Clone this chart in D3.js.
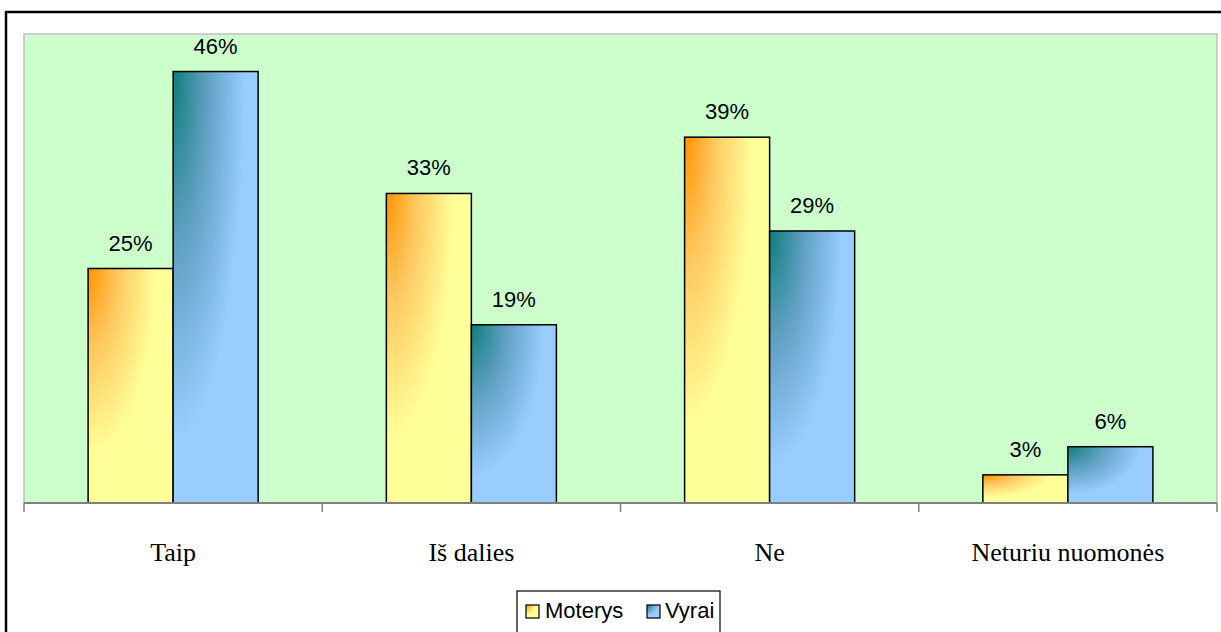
<!DOCTYPE html>
<html>
<head>
<meta charset="utf-8">
<script src="https://cdn.jsdelivr.net/npm/d3@7"></script>
<style>
  html, body { margin: 0; padding: 0; background: #fff; }
  svg { display: block; }
</style>
</head>
<body>
<div id="chart"></div>
<script>
const categories = ['Taip', 'Iš dalies', 'Ne', 'Neturiu nuomonės'];
const series = ['Moterys', 'Vyrai'];
const moterys = [25, 33, 39, 3];
const vyrai = [46, 19, 29, 6];
const yTicks = [0, 10, 20, 30, 40, 50];

const width = 1221;
const height = 632;
const plot = { left: 24, top: 34, right: 1217, bottom: 503 };

const svg = d3.select('#chart').append('svg').attr('width', width).attr('height', height);

// gradients, corner-lit like the spreadsheet fill
const defs = svg.append('defs');
const grads = [
  { id: 'gM', stops: [['0', '#ff9400'], ['0.35', '#ffc860'], ['0.8', '#ffff99']] },
  { id: 'gV', stops: [['0', '#0f7d7c'], ['0.4', '#5fa0c2'], ['0.85', '#99ccff']] },
];
grads.forEach((g) => {
  const rg = defs.append('radialGradient').attr('id', g.id)
    .attr('cx', 0).attr('cy', 0).attr('fx', 0).attr('fy', 0).attr('r', 1);
  g.stops.forEach((s) => rg.append('stop').attr('offset', s[0]).attr('stop-color', s[1]));
});
const fills = { Moterys: 'url(#gM)', Vyrai: 'url(#gV)' };

// outer chart frame (right and bottom edges fall outside the picture)
svg.append('rect')
  .attr('x', 6).attr('y', 12).attr('width', 1240).attr('height', 660)
  .attr('fill', 'none').attr('stroke', '#000').attr('stroke-width', 2.5);

// plot area
svg.append('rect')
  .attr('x', plot.left).attr('y', plot.top)
  .attr('width', plot.right - plot.left).attr('height', plot.bottom - plot.top)
  .attr('fill', '#ccffcc').attr('stroke', '#c0c0c0').attr('stroke-width', 1.5);

const x0 = d3.scaleBand().domain(categories).range([plot.left, plot.right]);
const x1 = d3.scaleBand().domain(series).range([0, x0.bandwidth()]).paddingOuter(0.754);
const y = d3.scaleLinear().domain([0, d3.max(yTicks)]).range([plot.bottom, plot.top]);

const rows = categories.map((c, i) => ({
  cat: c,
  vals: [
    { s: 'Moterys', v: moterys[i] },
    { s: 'Vyrai', v: vyrai[i] },
  ],
}));

const groups = svg.selectAll('.grp').data(rows).enter().append('g')
  .attr('class', 'grp')
  .attr('transform', (d) => `translate(${x0(d.cat)},0)`);

groups.selectAll('rect').data((d) => d.vals).enter().append('rect')
  .attr('x', (d) => x1(d.s))
  .attr('y', (d) => y(d.v))
  .attr('width', x1.bandwidth())
  .attr('height', (d) => y(0) - y(d.v))
  .attr('fill', (d) => fills[d.s])
  .attr('stroke', '#000').attr('stroke-width', 1.5);

groups.selectAll('text').data((d) => d.vals).enter().append('text')
  .attr('x', (d) => x1(d.s) + x1.bandwidth() / 2)
  .attr('y', (d) => y(d.v) - 18)
  .attr('text-anchor', 'middle')
  .attr('font-family', '"Liberation Sans", Arial, sans-serif')
  .attr('font-size', 22)
  .attr('fill', '#000')
  .text((d) => d.v + '%');

// category axis
const xAxis = svg.append('g').attr('transform', `translate(0,${plot.bottom})`);
xAxis.append('line')
  .attr('x1', plot.left).attr('x2', plot.right)
  .attr('stroke', '#808080').attr('stroke-width', 2);
const tickXs = categories.map((c) => x0(c)).concat([plot.right]);
xAxis.selectAll('.tick').data(tickXs).enter().append('line')
  .attr('x1', (d) => d).attr('x2', (d) => d)
  .attr('y1', 0).attr('y2', 9)
  .attr('stroke', '#808080').attr('stroke-width', 1.5);
xAxis.selectAll('.lbl').data(categories).enter().append('text')
  .attr('x', (d) => x0(d) + x0.bandwidth() / 2)
  .attr('y', 58)
  .attr('text-anchor', 'middle')
  .attr('font-family', '"Liberation Serif", "Times New Roman", serif')
  .attr('font-size', 26)
  .attr('fill', '#000')
  .text((d) => d);

// legend
const legend = svg.append('g');
legend.append('rect')
  .attr('x', 517).attr('y', 591).attr('width', 203).attr('height', 60)
  .attr('fill', '#fff').attr('stroke', '#000').attr('stroke-width', 1.2);
const legendItems = [
  { s: 'Moterys', x: 526, tx: 545 },
  { s: 'Vyrai', x: 647, tx: 665 },
];
legendItems.forEach((it) => {
  legend.append('rect')
    .attr('x', it.x).attr('y', 605).attr('width', 13).attr('height', 13)
    .attr('fill', fills[it.s]).attr('stroke', '#000').attr('stroke-width', 1.2);
  legend.append('text')
    .attr('x', it.tx).attr('y', 618)
    .attr('font-family', '"Liberation Sans", Arial, sans-serif')
    .attr('font-size', 22)
    .attr('fill', '#000')
    .text(it.s);
});
</script>
</body>
</html>
